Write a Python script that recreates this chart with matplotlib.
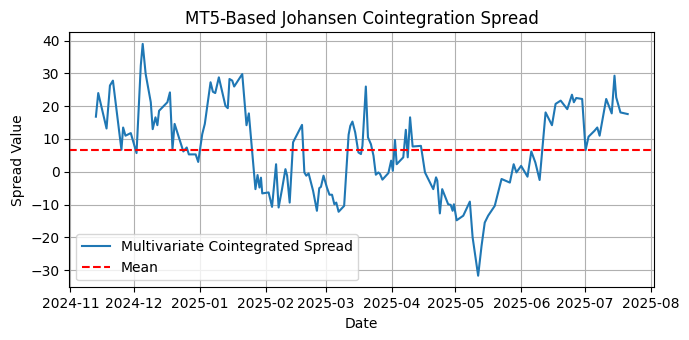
import matplotlib
matplotlib.use("Agg")
import matplotlib.pyplot as plt
import pandas as pd

# x values: days after 2024-11-01, y: spread values
start_date = "2024-11-01"
day_offsets = [
    12.0, 13.1, 17.0, 18.6, 20.0, 24.0, 24.8, 25.9, 28.4, 31.1,
    33.1, 34.0, 35.4, 37.8, 38.7, 40.0, 40.9, 41.7, 45.6, 46.8,
    48.0, 49.0, 53.1, 54.7, 55.7, 58.9, 60.1, 62.0, 63.2, 65.9,
    67.0, 68.1, 69.8, 72.9, 74.0, 74.8, 76.1, 77.0, 80.8, 82.8,
    83.9, 87.0, 88.0, 88.9, 89.6, 90.2, 93.2, 94.8, 96.7, 97.9,
    99.5, 101.1, 101.9, 103.1, 104.7, 108.9, 110.0, 110.9, 112.0, 114.1,
    115.9, 117.0, 117.8, 119.0, 120.6, 121.8, 123.0, 124.1, 125.0, 126.1,
    128.7, 130.8, 131.6, 132.6, 133.9, 135.4, 136.6, 137.3, 138.9, 139.9,
    141.3, 142.5, 143.6, 144.8, 145.6, 146.7, 149.5, 150.8, 151.6, 152.6,
    153.4, 156.5, 157.7, 158.6, 159.7, 160.9, 164.8, 166.7, 170.6, 171.9,
    172.5, 173.7, 174.8, 177.6, 178.8, 179.7, 180.3, 181.6, 184.7, 187.8,
    189.1, 191.7, 193.3, 194.8, 196.4, 199.5, 202.7, 206.6, 208.4, 209.7,
    211.9, 214.9, 216.7, 218.6, 220.6, 223.4, 226.4, 228.1, 230.5, 233.6,
    235.8, 236.7, 237.8, 240.6, 242.2, 243.6, 246.4, 247.7, 248.8, 251.9,
    254.5, 255.8, 256.6, 258.6, 262.0,
]
spread_values = [
    16.8, 24.0, 13.2, 26.3, 27.8, 6.7, 13.5, 11.0, 11.8, 5.7,
    32.4, 39.0, 29.8, 21.2, 13.0, 16.6, 14.2, 18.6, 21.2, 24.2,
    6.9, 14.6, 6.2, 7.4, 5.3, 5.3, 3.0, 11.5, 14.6, 27.3,
    24.4, 24.0, 28.8, 20.1, 19.4, 28.3, 27.8, 26.0, 29.8, 14.2,
    17.8, -5.3, -1.0, -4.8, -1.8, -6.6, -6.3, -10.7, 2.3, -10.9,
    -5.3, 0.8, -1.2, -9.4, 9.0, 14.3, -0.2, -1.2, -0.5, -5.8,
    -11.9, -5.0, -4.6, -1.2, -4.8, -7.0, -7.0, -9.9, -9.4, -12.2,
    -10.4, 11.3, 14.0, 15.3, 12.0, 5.9, 5.4, 7.9, 26.0, 10.5,
    8.4, 4.9, -0.9, -0.2, -0.7, -2.4, -0.4, 3.4, 0.3, 9.7,
    2.3, 4.4, 12.8, 4.4, 16.6, 7.7, 7.9, -0.2, -5.3, -1.7,
    -2.7, -12.7, -5.3, -9.9, -10.1, -11.9, -9.9, -14.8, -13.4, -9.1,
    -20.0, -31.7, -22.6, -15.5, -13.4, -10.4, -2.2, -3.3, 2.3, -0.2,
    1.8, -1.5, 6.2, 2.8, -2.5, 18.1, 14.2, 20.7, 21.7, 19.1,
    23.5, 21.2, 22.5, 22.2, 6.6, 10.7, 12.5, 13.5, 11.0, 22.2,
    17.8, 29.3, 22.7, 18.1, 17.6,
]
mean_value = 6.7

title_text = "MT5-Based Johansen Cointegration Spread"
series_label = "Multivariate Cointegrated Spread"
mean_label = "Mean"
x_label = "Date"
y_label = "Spread Value"

dates = pd.to_datetime(start_date) + pd.to_timedelta(day_offsets, unit="D")

fig = plt.figure(figsize=(6.89, 3.40), dpi=100)
ax = fig.add_axes([0.1006, 0.155, 0.849, 0.750])
ax.plot(dates, spread_values, color="#1f77b4", linewidth=1.5, label=series_label)
ax.axhline(mean_value, color="red", linestyle="--", linewidth=1.5, label=mean_label)
ax.set_title(title_text, fontsize=12)
ax.set_xlabel(x_label)
ax.set_ylabel(y_label)
ax.grid(True)
ax.legend(loc="lower left")
fig.savefig("out.png", dpi=100)
